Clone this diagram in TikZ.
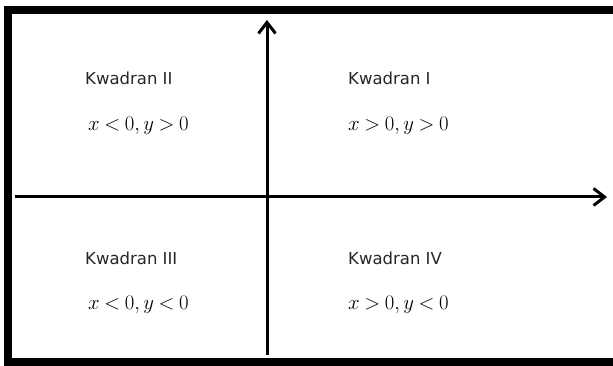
\documentclass[tikz,border=0pt]{standalone}
\usepackage{fontspec}
\setsansfont{DejaVu Sans}
\usetikzlibrary{arrows.meta}
\newcommand{\tightmath}{\thickmuskip=4mu\relax\medmuskip=3mu\relax}
\tikzset{
  frameline/.style={line width=8pt, line cap=butt, line join=miter},
  axis/.style={line width=3pt, -{Straight Barb[length=11pt,width=17pt,line width=3pt]}},
  qlabel/.style={anchor=west, inner sep=0pt, font=\sffamily\fontsize{16.5}{19}\selectfont, text=black!85},
  qmath/.style={anchor=west, inner sep=0pt, font=\fontsize{20}{24}\selectfont\tightmath}
}
\begin{document}
\begin{tikzpicture}[x=1pt,y=-1pt]
\useasboundingbox (0,0) rectangle (613,366);
\fill[white] (0,0) rectangle (613,366);
% frame (right side runs off the picture)
\draw[frameline] (640,10.5) -- (8,10.5) -- (8,362) -- (640,362);
% axes
\coordinate (xs) at (15,197);
\coordinate (xe) at (607,197);
\coordinate (ys) at (267,355);
\coordinate (ye) at (267,20);
\draw[axis] (xs) -- (xe);
\draw[axis] (ys) -- (ye);
% labels
\node[qlabel] (k2) at (85,78) {Kwadran II};
\node[qmath]  (m2) at (88,126) {$x<0, y>0$};
\node[qlabel] (k1) at (348,78) {Kwadran I};
\node[qmath]  (m1) at (348,126) {$x>0, y>0$};
\node[qlabel] (k3) at (85,258) {Kwadran III};
\node[qmath]  (m3) at (88,305) {$x<0, y<0$};
\node[qlabel] (k4) at (348,258) {Kwadran IV};
\node[qmath]  (m4) at (348,305) {$x>0, y<0$};
\end{tikzpicture}
\end{document}
